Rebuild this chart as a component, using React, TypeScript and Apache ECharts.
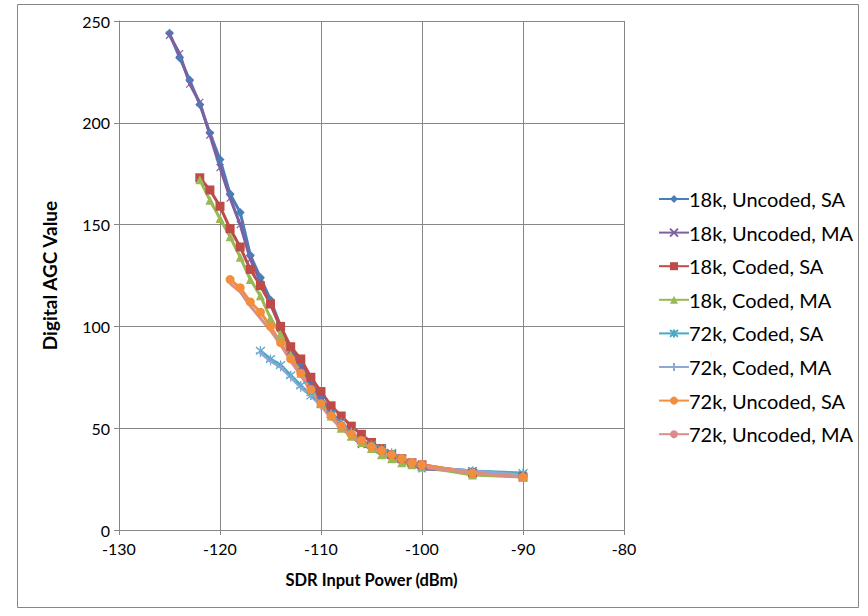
import React, { useEffect, useRef } from "react";
import * as echarts from "echarts";

const xTicks = [-130, -120, -110, -100, -90, -80];
const yTicks = [0, 50, 100, 150, 200, 250];

const x18Uncoded = [-125, -124, -123, -122, -121, -120, -119, -118, -117, -116, -115, -114, -113, -112, -111, -110, -109, -108, -107, -106, -105, -104, -103, -102, -101, -100, -95, -90];
const y18UncodedSA = [244, 232, 221, 209, 195, 182, 165, 156, 135, 124, 113, 100, 89, 82, 73, 65, 58, 52, 47, 43, 40, 38, 36, 34, 33, 31, 29, 27];
const y18UncodedMA = [243, 234, 219, 210, 194, 178, 163, 150, 133, 122, 111, 99, 88, 80, 72, 64, 57, 51, 46, 42, 40, 37, 35, 33, 32, 30, 29, 27];

const x18Coded = [-122, -121, -120, -119, -118, -117, -116, -115, -114, -113, -112, -111, -110, -109, -108, -107, -106, -105, -104, -103, -102, -101, -100, -95, -90];
const y18CodedSA = [173, 167, 159, 148, 139, 128, 120, 111, 100, 90, 84, 75, 68, 61, 56, 51, 47, 43, 40, 37, 35, 33, 32, 28, 26];
const y18CodedMA = [172, 162, 153, 144, 134, 123, 115, 104, 96, 86, 77, 68, 62, 56, 50, 46, 43, 40, 37, 35, 33, 32, 31, 27, 26];

const x72Coded = [-116, -115, -114, -113, -112, -111, -110, -109, -108, -107, -106, -105, -104, -103, -102, -101, -100, -95, -90];
const y72CodedSA = [88, 84, 81, 76, 71, 66, 62, 57, 53, 48, 44, 42, 40, 38, 35, 33, 31, 29, 28];
const y72CodedMA = [87, 83, 80, 75, 70, 66, 61, 57, 52, 48, 44, 41, 39, 37, 35, 33, 31, 29, 27];

const x72Uncoded = [-119, -118, -117, -116, -115, -114, -113, -112, -111, -110, -109, -108, -107, -106, -105, -104, -103, -102, -101, -100, -95, -90];
const y72UncodedSA = [123, 119, 112, 107, 100, 92, 84, 77, 69, 62, 56, 51, 47, 44, 41, 39, 37, 35, 33, 32, 28, 26];
const y72UncodedMA = [121, 117, 110, 104, 98, 91, 83, 76, 68, 61, 55, 50, 46, 43, 41, 38, 36, 34, 33, 31, 28, 26];

const seriesNames = [
  "18k, Uncoded, SA",
  "18k, Uncoded, MA",
  "18k, Coded, SA",
  "18k, Coded, MA",
  "72k, Coded, SA",
  "72k, Coded, MA",
  "72k, Uncoded, SA",
  "72k, Uncoded, MA",
];

const pair = (xs: number[], ys: number[]) => xs.map((x, i) => [x, ys[i]]);

const FONT = "Lato";
const GRID = "#868686";

export default function App() {
  const ref = useRef<HTMLDivElement>(null);
  useEffect(() => {
    if (!ref.current) return;
    const chart = echarts.init(ref.current, undefined, { renderer: "svg" });

    const X_PATH = "path://M0,0L10,10M10,0L0,10";
    const STAR_PATH = "path://M0,0L10,10M10,0L0,10M5,-1L5,11";
    const PLUS_PATH = "path://M5,0L5,10M0,5L10,5";

    const mk = (
      name: string,
      data: number[][],
      lineColor: string,
      markerColor: string,
      symbol: string,
      size: number,
      stroke = false
    ) => ({
      name,
      type: "line",
      data,
      symbol,
      symbolSize: size,
      showSymbol: symbol !== "none",
      lineStyle: { color: lineColor, width: 3 },
      itemStyle: stroke
        ? { color: "rgba(0,0,0,0)", borderColor: markerColor, borderWidth: 1.2 }
        : { color: markerColor, borderColor: markerColor, borderWidth: 0 },
      emphasis: { disabled: true },
    });

    chart.setOption({
      animation: false,
      graphic: [
        {
          type: "rect",
          shape: { x: 17.5, y: 4.5, width: 841, height: 603 },
          style: { fill: "none", stroke: GRID, lineWidth: 1 },
          silent: true,
        },
      ],
      grid: { left: 119, right: 244, top: 21, bottom: 86, containLabel: false },
      legend: {
        orient: "vertical",
        left: 653,
        top: 184,
        itemWidth: 30,
        itemHeight: 10,
        itemGap: 13.6,
        data: seriesNames,
        textStyle: { fontFamily: FONT, fontSize: 20, color: "#000", lineHeight: 20, padding: [0, 0, 0, -5] },
      },
      xAxis: {
        type: "value",
        min: xTicks[0],
        max: xTicks[xTicks.length - 1],
        interval: 10,
        name: "SDR Input Power (dBm)",
        nameLocation: "middle",
        nameGap: 41,
        nameTextStyle: { fontFamily: FONT, fontSize: 16.5, fontWeight: "bold", color: "#000" },
        axisLine: { show: true, onZero: false, lineStyle: { color: GRID } },
        axisTick: { show: true, length: 5, lineStyle: { color: GRID } },
        axisLabel: { fontFamily: FONT, fontSize: 16, color: "#000", margin: 11, lineHeight: 14 },
        splitLine: { show: true, lineStyle: { color: GRID, width: 1 } },
      },
      yAxis: {
        type: "value",
        min: yTicks[0],
        max: yTicks[yTicks.length - 1],
        interval: 50,
        name: "Digital AGC Value",
        nameLocation: "middle",
        nameGap: 60,
        nameTextStyle: { fontFamily: FONT, fontSize: 19, fontWeight: "bold", color: "#000" },
        axisLine: { show: true, lineStyle: { color: GRID } },
        axisTick: { show: true, length: 5, lineStyle: { color: GRID } },
        axisLabel: { fontFamily: FONT, fontSize: 16, color: "#000", margin: 9, lineHeight: 14, verticalAlign: "middle" },
        splitLine: { show: true, lineStyle: { color: GRID, width: 1 } },
      },
      series: [
        mk(seriesNames[0], pair(x18Uncoded, y18UncodedSA), "#4A7EBB", "#4A7EBB", "diamond", 9),
        mk(seriesNames[1], pair(x18Uncoded, y18UncodedMA), "#7D60A0", "#7D60A0", X_PATH, 7, true),
        mk(seriesNames[2], pair(x18Coded, y18CodedSA), "#BE4B48", "#BE4B48", "rect", 9),
        mk(seriesNames[3], pair(x18Coded, y18CodedMA), "#98B954", "#98B954", "triangle", 9),
        mk(seriesNames[4], pair(x72Coded, y72CodedSA), "#46AAC5", "#46AAC5", STAR_PATH, 9, true),
        mk(seriesNames[5], pair(x72Coded, y72CodedMA), "#8EA8D6", "#8EA8D6", PLUS_PATH, 9, true),
        mk(seriesNames[6], pair(x72Uncoded, y72UncodedSA), "#F38E3C", "#F38E3C", "circle", 9),
        mk(seriesNames[7], pair(x72Uncoded, y72UncodedMA), "#DB8D8A", "#DB8D8A", "none", 1),
      ],
    });
    return () => chart.dispose();
  }, []);
  return (
    <div
      ref={ref}
      style={{ position: "fixed", left: 0, top: 0, width: 868, height: 616, background: "#fff" }}
    />
  );
}
